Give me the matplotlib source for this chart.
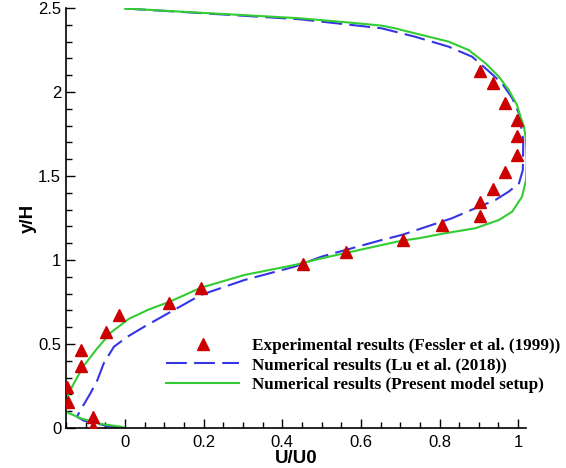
import numpy as np
import matplotlib
matplotlib.use('Agg')
import matplotlib.pyplot as plt

## Reading values off the figure
# Experimental (Fessler et al. 1999)
exp_u = [-0.082, -0.082, -0.146, -0.148, -0.111, -0.111, -0.047, -0.015, 0.112, 0.193,
         0.453, 0.563, 0.708, 0.806, 0.903, 0.903, 0.936, 0.967, 0.997, 0.997,
         0.997, 0.967, 0.936, 0.903]
exp_y = [0.008, 0.064, 0.153, 0.246, 0.369, 0.464, 0.573, 0.673, 0.746, 0.832,
         0.976, 1.048, 1.120, 1.208, 1.262, 1.345, 1.423, 1.524, 1.625, 1.738,
         1.833, 1.935, 2.054, 2.125]

# Lu et al. (2018)
lu_u = [0.0, 0.19, 0.444, 0.577, 0.653, 0.687, 0.738, 0.823, 0.883, 0.917, 0.959, 0.985,
        1.002, 1.013, 1.012, 1.002, 0.976, 0.942, 0.891, 0.831, 0.772, 0.704,
        0.653, 0.50, 0.431, 0.304, 0.193, 0.10, 0.049, 0.006, -0.028, -0.054,
        -0.07, -0.088, -0.113, -0.122, -0.105, -0.045, 0.0]
lu_y = [2.497, 2.470, 2.433, 2.399, 2.379, 2.359, 2.329, 2.270, 2.210, 2.141, 2.052, 1.963,
        1.873, 1.714, 1.536, 1.456, 1.407, 1.357, 1.308, 1.248, 1.202, 1.149,
        1.119, 1.020, 0.960, 0.881, 0.792, 0.670, 0.603, 0.543, 0.484, 0.385,
        0.286, 0.206, 0.107, 0.067, 0.044, 0.012, 0.0]

# present model setup
pm_u = [0.0, 0.19, 0.444, 0.577, 0.653, 0.687, 0.738, 0.823, 0.874, 0.917, 0.951, 0.976,
        0.997, 1.006, 1.015, 1.02, 1.022, 1.02, 1.01, 0.985, 0.951, 0.891,
        0.814, 0.746, 0.704, 0.653, 0.50, 0.431, 0.304, 0.193, 0.112, 0.06,
        0.01, -0.035, -0.072, -0.105, -0.13, -0.151, -0.16, -0.151, -0.113, -0.062,
        -0.011, 0.0]
pm_y = [2.497, 2.472, 2.439, 2.412, 2.395, 2.379, 2.349, 2.300, 2.250, 2.171, 2.091, 2.012,
        1.923, 1.853, 1.793, 1.714, 1.576, 1.476, 1.377, 1.288, 1.238, 1.189,
        1.159, 1.129, 1.115, 1.089, 1.010, 0.970, 0.911, 0.835, 0.750, 0.705,
        0.650, 0.570, 0.470, 0.370, 0.266, 0.167, 0.130, 0.097, 0.058, 0.024,
        0.008, 0.0]

fig = plt.figure(figsize=(5.66, 4.68), dpi=100)
ax = fig.add_axes([66/566, 40/468, 460/566, 420/468])

ax.plot(exp_u, exp_y, linestyle='none', marker='^', markersize=9, color='#cc0000',
        label='Experimental results (Fessler et al. (1999))', zorder=3)
ax.plot(lu_u, lu_y, color='#3535e6', lw=1.5, dashes=(10, 3.5),
        label='Numerical results (Lu et al. (2018))')
ax.plot(pm_u, pm_y, color='#33cc33', lw=1.5,
        label='Numerical results (Present model setup)')

ax.set_xlim(-0.15, 1.02)
ax.set_ylim(0, 2.5)
ax.set_xticks([0, 0.2, 0.4, 0.6, 0.8, 1])
ax.set_xticklabels(['0', '0.2', '0.4', '0.6', '0.8', '1'])
ax.set_xticks(np.arange(-0.15, 1.01, 0.05), minor=True)
ax.set_yticks([0, 0.5, 1, 1.5, 2, 2.5])
ax.set_yticklabels(['0', '0.5', '1', '1.5', '2', '2.5'])
ax.set_yticks(np.arange(0, 2.51, 0.1), minor=True)
ax.tick_params(which='both', direction='in', width=1, labelsize=12)
ax.tick_params(which='major', length=6.5)
ax.tick_params(which='minor', length=4)
ax.tick_params(axis='x', pad=5)
for lab in ax.get_xticklabels() + ax.get_yticklabels():
    lab.set_family('Liberation Sans')

ax.spines['top'].set_visible(False)
ax.spines['right'].set_visible(False)
ax.spines['left'].set_linewidth(1.2)
ax.spines['bottom'].set_linewidth(1.2)

ax.set_xlabel('U/U0', fontsize=13.5, fontweight='bold', family='Liberation Sans', labelpad=0)
ax.set_ylabel('y/H', fontsize=13.5, fontweight='bold', family='Liberation Sans', labelpad=1)

leg = ax.legend(loc='upper left', bbox_to_anchor=(166/566, 1 - 338/468),
                bbox_transform=fig.transFigure, frameon=False,
                prop={'family': 'Liberation Serif', 'weight': 'bold', 'size': 12.3},
                handlelength=4.3, handletextpad=0.75, labelspacing=0.2,
                borderpad=0, borderaxespad=0, numpoints=1)

plt.savefig('out.png', dpi=100)
